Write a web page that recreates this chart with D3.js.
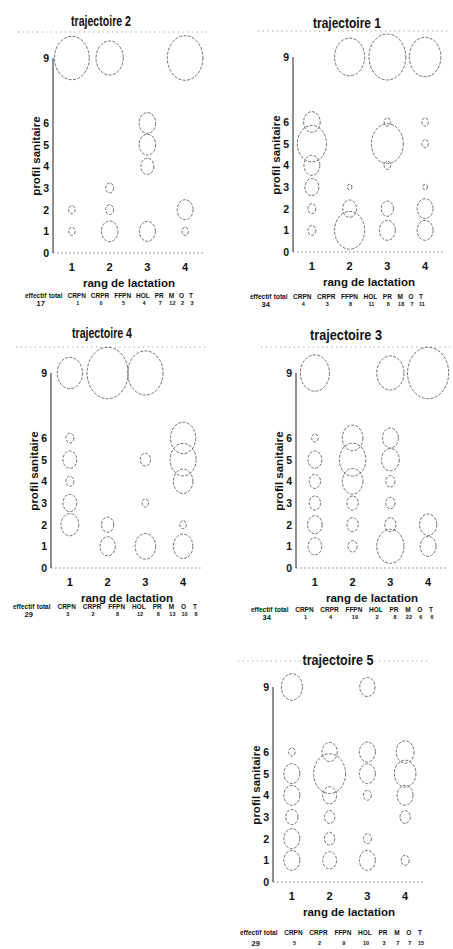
<!DOCTYPE html>
<html lang="fr">
<head>
<meta charset="UTF-8">
<title>trajectoires</title>
<script src="https://d3js.org/d3.v7.min.js"></script>
<style>
  body { margin: 0; background: #fff; }
  text { font-family: "Liberation Sans", Arial, sans-serif; font-weight: bold; fill: #111; }
  .bubble { fill: none; stroke: #555; stroke-width: 0.85; stroke-dasharray: 3 1.4; }
</style>
</head>
<body>
<svg id="chart" width="453" height="949"></svg>
<script>
// categories
const ranks = [1, 2, 3, 4];
const profileTicks = [0, 1, 2, 3, 4, 5, 6, 9];
const breeds = ["CRPN", "CRPR", "FFPN", "HOL", "PR", "M", "O", "T"];

// bubbles: [rang de lactation, profil sanitaire, % of cows]
const traj2Bubbles = [[1,9,57],[1,2,2],[1,1,2],[2,9,35],[2,3,3],[2,2,3],[2,1,13],
  [3,6,13],[3,5,13],[3,4,8],[3,1,12],[4,9,60],[4,2,12],[4,1,2]];
const traj1Bubbles = [[1,6,13],[1,5,40],[1,4,12],[1,3,9],[1,2,3],[1,1,3],
  [2,9,43],[2,3,1],[2,2,9],[2,1,43],
  [3,9,64],[3,6,2],[3,5,48],[3,4,2],[3,2,7],[3,1,12],
  [4,9,47],[4,6,2],[4,5,2],[4,3,1],[4,2,12],[4,1,12]];
const traj4Bubbles = [[1,9,30],[1,6,3],[1,5,9],[1,4,3],[1,3,9],[1,2,15],
  [2,9,80],[2,2,7],[2,1,11],
  [3,9,59],[3,5,5],[3,3,2],[3,1,20],
  [4,6,30],[4,5,32],[4,4,18],[4,2,2],[4,1,18]];
const traj3Bubbles = [[1,9,40],[1,6,2],[1,5,9],[1,4,6],[1,3,6],[1,2,10],[1,1,9],
  [2,6,20],[2,5,33],[2,4,20],[2,3,6],[2,2,6],[2,1,4],
  [3,9,35],[3,6,12],[3,5,15],[3,4,4],[3,3,4],[3,2,6],[3,1,35],
  [4,9,80],[4,2,14],[4,1,12]];
const traj5Bubbles = [[1,9,21],[1,6,2],[1,5,12],[1,4,12],[1,3,7],[1,2,12],[1,1,12],
  [2,6,11],[2,5,48],[2,4,9],[2,3,5],[2,2,5],[2,1,9],
  [3,9,11],[3,6,12],[3,5,12],[3,4,3],[3,2,3],[3,1,12],
  [4,6,15],[4,5,22],[4,4,12],[4,3,5],[4,1,3]];

// effectif total and counts per breed
const totals = [17, 34, 29, 34, 29];
const traj2Breeds = [1, 0, 5, 4, 7, 12, 2, 3];
const traj1Breeds = [4, 3, 8, 11, 8, 18, 7, 11];
const traj4Breeds = [3, 2, 8, 12, 8, 13, 10, 8];
const traj3Breeds = [1, 4, 19, 2, 8, 22, 6, 6];
const traj5Breeds = [5, 2, 9, 10, 3, 7, 7, 15];

const names = ["trajectoire 2", "trajectoire 1", "trajectoire 4", "trajectoire 3", "trajectoire 5"];
const bubbleSets = [traj2Bubbles, traj1Bubbles, traj4Bubbles, traj3Bubbles, traj5Bubbles];
const breedSets = [traj2Breeds, traj1Breeds, traj4Breeds, traj3Breeds, traj5Breeds];

// panel placement on the page
const layout = [
  {ax: 53,  y0: 253, titleX: 101, titleY: 26,  titleW: 60, footX: 25,  footY: 298, footW: 168, numDy: 7},
  {ax: 293, y0: 252, titleX: 347, titleY: 28,  titleW: 68, footX: 250, footY: 299, footW: 173, numDy: 7},
  {ax: 51,  y0: 568, titleX: 102, titleY: 338, titleW: 60, footX: 13,  footY: 609, footW: 184, numDy: 7},
  {ax: 296, y0: 568, titleX: 346, titleY: 340, titleW: 72, footX: 251, footY: 612, footW: 182, numDy: 7},
  {ax: 273, y0: 882, titleX: 338, titleY: 665, titleW: 71, footX: 240, footY: 935, footW: 182, numDy: 10}
];

const svg = d3.select("#chart");
const plotW = 151, plotH = 195;
const r = d3.scaleSqrt().domain([0, 100]).range([0, 23]);
const aspect = 1.25;

names.forEach((name, i) => {
  const L = layout[i];
  const g = svg.append("g");
  const x = d3.scaleLinear().domain([0.5, 4.5]).range([L.ax, L.ax + plotW]);
  const y = d3.scaleLinear().domain([0, 9]).range([L.y0, L.y0 - plotH]);

  // title
  g.append("text")
    .attr("x", L.titleX).attr("y", L.titleY)
    .attr("text-anchor", "middle")
    .attr("font-size", 15)
    .attr("textLength", L.titleW)
    .attr("lengthAdjust", "spacingAndGlyphs")
    .text(name);

  // dotted frame lines (top and bottom)
  g.append("line")
    .attr("x1", L.ax - 35).attr("x2", L.ax + plotW + 4)
    .attr("y1", y(10.2)).attr("y2", y(10.2))
    .attr("stroke", "#888").attr("stroke-width", 0.8)
    .attr("stroke-dasharray", "1.2 3.5");
  g.append("line")
    .attr("x1", L.ax).attr("x2", L.ax + plotW)
    .attr("y1", y(0)).attr("y2", y(0))
    .attr("stroke", "#777").attr("stroke-width", 0.9)
    .attr("stroke-dasharray", "1.5 2.5");

  // y axis
  g.append("line")
    .attr("x1", L.ax).attr("x2", L.ax)
    .attr("y1", y(9)).attr("y2", y(0))
    .attr("stroke", "#333").attr("stroke-width", 1.1);
  g.selectAll(".ytick")
    .data(profileTicks)
    .join("text")
    .attr("x", L.ax - 4)
    .attr("y", d => y(d) + 4)
    .attr("text-anchor", "end")
    .attr("font-size", 10.5)
    .text(d => d);
  g.append("text")
    .attr("transform", `translate(${L.ax - 13},${L.y0 - 97}) rotate(-90)`)
    .attr("text-anchor", "middle")
    .attr("font-size", 11.5)
    .text("profil sanitaire");

  // x ticks
  g.selectAll(".xtick")
    .data(ranks)
    .join("text")
    .attr("x", d => x(d))
    .attr("y", L.y0 + 18)
    .attr("text-anchor", "middle")
    .attr("font-size", 11)
    .text(d => d);
  g.append("text")
    .attr("x", L.ax + 76).attr("y", L.y0 + 34)
    .attr("text-anchor", "middle")
    .attr("font-size", 11.5)
    .text("rang de lactation");

  // bubbles
  g.selectAll(".bubble")
    .data(bubbleSets[i])
    .join("ellipse")
    .attr("class", "bubble")
    .attr("cx", d => x(d[0]))
    .attr("cy", d => y(d[1]))
    .attr("rx", d => r(d[2]))
    .attr("ry", d => r(d[2]) * aspect);

  // footer: effectif total + breed counts
  const words = ["effectif", "total"].concat(breeds);
  const tmp = g.append("text").attr("font-size", 6.5);
  const widths = words.map(w => { tmp.text(w); return tmp.node().getComputedTextLength(); });
  tmp.remove();
  const innerGap = 2.5; // "effectif total" kept together
  const gap = (L.footW - d3.sum(widths) - innerGap) / (words.length - 2);
  let cur = L.footX;
  const centers = widths.map((w, k) => {
    const c = cur + w / 2;
    cur += w + (k === 0 ? innerGap : gap);
    return c;
  });

  g.selectAll(".fword")
    .data(words)
    .join("text")
    .attr("x", (d, k) => centers[k])
    .attr("y", L.footY)
    .attr("text-anchor", "middle")
    .attr("font-size", 6.5)
    .text(d => d);
  g.append("text")
    .attr("x", centers[0] + 5)
    .attr("y", L.footY + L.numDy + 1)
    .attr("text-anchor", "middle")
    .attr("font-size", 7.5)
    .text(totals[i]);
  g.selectAll(".fnum")
    .data(breedSets[i])
    .join("text")
    .attr("x", (d, k) => centers[k + 2] + 1)
    .attr("y", L.footY + L.numDy)
    .attr("text-anchor", "middle")
    .attr("font-size", 5.5)
    .text(d => d);
});
</script>
</body>
</html>
